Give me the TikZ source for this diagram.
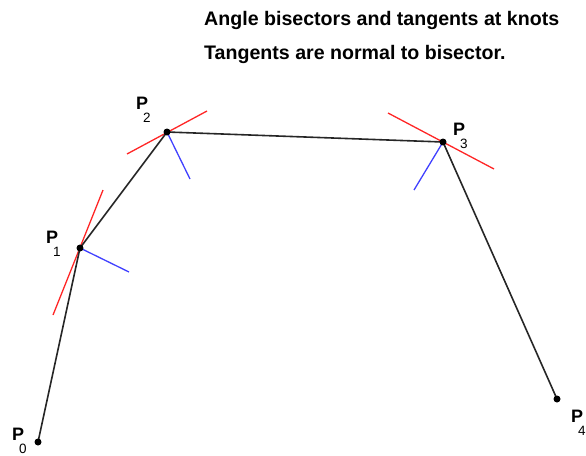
\documentclass[tikz,border=0pt]{standalone}
\usepackage{fontspec}
\setmainfont{Liberation Sans}
\begin{document}
\begin{tikzpicture}[x=1pt,y=-1pt,
  seg/.style={black!85,line width=1.6pt},
  tang/.style={red!85!white,line width=1.3pt},
  bis/.style={blue!75!white,line width=1.3pt},
  knot/.style={circle,fill=black,inner sep=0pt,minimum size=7pt},
  lbl/.style={anchor=base west,inner sep=0pt,font=\fontsize{18}{18}\selectfont},
  ttl/.style={anchor=base west,inner sep=0pt,font=\fontsize{19.6}{19.6}\selectfont\bfseries}]
\useasboundingbox (0,0) rectangle (586,455);
\node[ttl] (t1) at (204,25) {Angle bisectors and tangents at knots};
\node[ttl] (t2) at (204,59) {Tangents are normal to bisector.};
% knots
\coordinate (p0) at (38,442);
\coordinate (p1) at (80,248);
\coordinate (p2) at (167,132);
\coordinate (p3) at (443,142);
\coordinate (p4) at (557,399);
% tangent and bisector ends
\coordinate (t1a) at (53,315); \coordinate (t1b) at (103,190);
\coordinate (b1) at (129,272);
\coordinate (t2a) at (127,154); \coordinate (t2b) at (207,111);
\coordinate (b2) at (190,179);
\coordinate (t3a) at (388,113); \coordinate (t3b) at (494,169);
\coordinate (b3) at (414,190);
\draw[tang] (t1a) -- (t1b);
\draw[tang] (t2a) -- (t2b);
\draw[tang] (t3a) -- (t3b);
\draw[bis] (p1) -- (b1);
\draw[bis] (p2) -- (b2);
\draw[bis] (p3) -- (b3);
\draw[seg] (p0) -- (p1) -- (p2) -- (p3) -- (p4);
\foreach \k in {p0,p1,p2,p3,p4} \node[knot] at (\k) {};
% labels
\newcommand{\knotlabel}[1]{\textbf{P}\hspace{-5pt}\raisebox{-13pt}{\fontsize{13.5}{13.5}\selectfont #1}}
\node[lbl] (l0) at (12,440) {\knotlabel{0}};
\node[lbl] (l1) at (46,243) {\knotlabel{1}};
\node[lbl] (l2) at (136,109) {\knotlabel{2}};
\node[lbl] (l3) at (453,135) {\knotlabel{3}};
\node[lbl] (l4) at (571,422) {\knotlabel{4}};
\end{tikzpicture}
\end{document}
